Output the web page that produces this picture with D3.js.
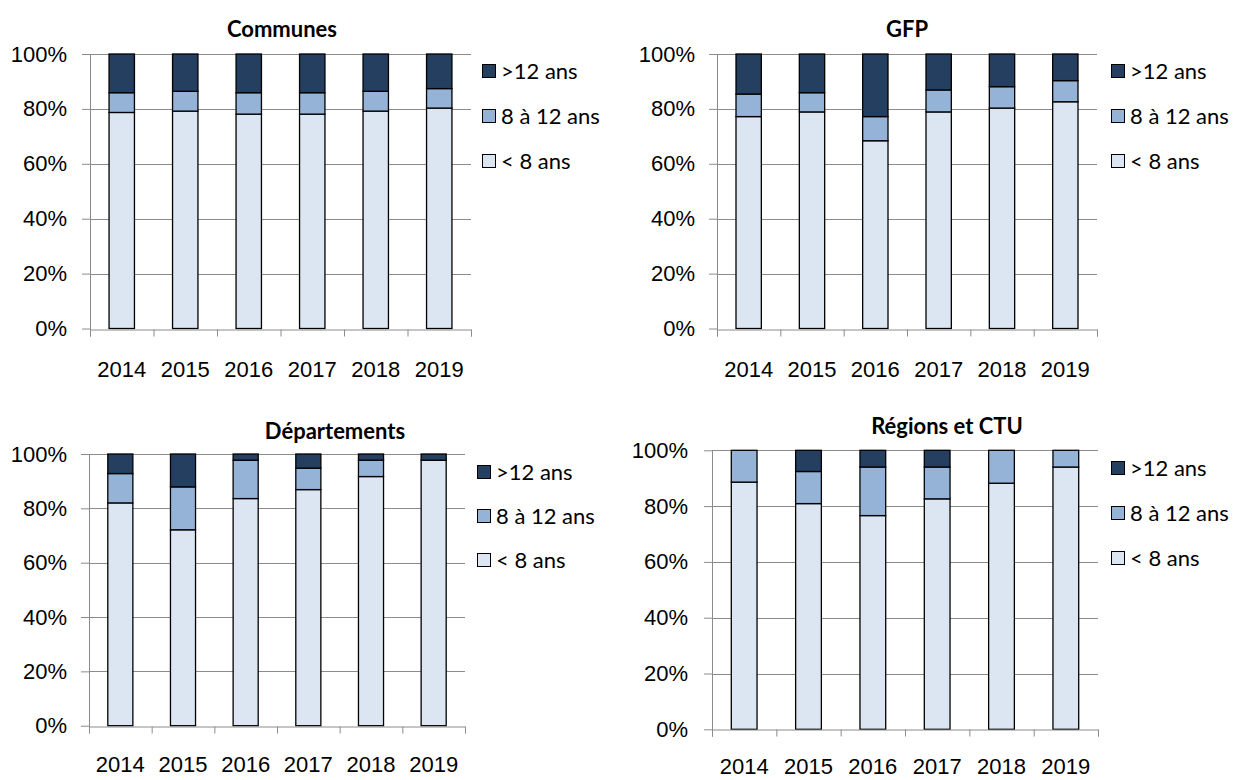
<!DOCTYPE html>
<html>
<head>
<meta charset="utf-8">
<script src="https://cdn.jsdelivr.net/npm/d3@7"></script>
<style>
  body { margin: 0; background: #fff; }
  svg { font-family: Lato, "Open Sans", sans-serif; }
  .grid line { stroke: #8c8c8c; stroke-width: 1; }
  .axis path, .axis line { stroke: #8c8c8c; }
  .axis text { fill: #000; font-size: 22px; }
  .legend text { font-size: 22px; }
  .title { font-size: 22px; font-weight: bold; }
</style>
</head>
<body>
<svg id="chart" width="1237" height="780"></svg>
<script>
const years = ['2014', '2015', '2016', '2017', '2018', '2019'];
const seriesNames = ['< 8 ans', '8 à 12 ans', '>12 ans'];
const seriesColors = ['#dce6f2', '#95b3d7', '#243f60'];

// share of each age band, in %
const communesLt8 = [78.7, 79.2, 78.1, 78.1, 79.2, 80.3];
const communesMid = [7.2, 7.2, 7.8, 7.8, 7.2, 7.1];
const communesGt12 = [14.1, 13.6, 14.1, 14.1, 13.6, 12.6];

const gfpLt8 = [77.2, 78.9, 68.4, 78.9, 80.3, 82.6];
const gfpMid = [8.2, 7.0, 8.8, 8.0, 7.8, 7.7];
const gfpGt12 = [14.6, 14.1, 22.8, 13.1, 11.9, 9.7];

const deptLt8 = [82.0, 72.1, 83.6, 86.9, 91.7, 97.7];
const deptMid = [10.8, 15.8, 14.1, 7.9, 6.0, 0.0];
const deptGt12 = [7.2, 12.1, 2.3, 5.2, 2.3, 2.3];

const regLt8 = [88.6, 80.9, 76.6, 82.6, 88.2, 94.0];
const regMid = [11.4, 11.5, 17.4, 11.4, 11.8, 6.0];
const regGt12 = [0, 7.6, 6.0, 6.0, 0, 0];

const yTicks = [0, 20, 40, 60, 80, 100];

class StackedPanel {

    constructor(_config) {
        this.config = _config;
        this.initVis();
    }

    initVis() {
        let vis = this;
        const c = vis.config;

        vis.g = d3.select('#chart').append('g');

        vis.x = d3.scaleBand()
            .domain(years)
            .range([c.left, c.right])
            .paddingInner(0.6)
            .paddingOuter(0.3);

        vis.xEdge = d3.scaleLinear()
            .domain([0, years.length])
            .range([c.left, c.right]);

        vis.y = d3.scaleLinear()
            .domain([0, 100])
            .range([c.bottom, c.top]);

        vis.render();
    }

    render() {
        let vis = this;
        const c = vis.config;

        // horizontal gridlines
        vis.g.append('g').attr('class', 'grid')
            .selectAll('line')
            .data(yTicks.slice(1))
            .join('line')
            .attr('x1', c.left)
            .attr('x2', c.right)
            .attr('y1', d => Math.round(vis.y(d)) + 0.5)
            .attr('y2', d => Math.round(vis.y(d)) + 0.5);

        const rows = years.map((yr, i) => ({
            year: yr, '< 8 ans': c.lt8[i], '8 à 12 ans': c.mid[i], '>12 ans': c.gt12[i]
        }));
        const stacked = d3.stack().keys(seriesNames)(rows);

        vis.g.append('g')
            .selectAll('g')
            .data(stacked)
            .join('g')
            .attr('fill', (d, i) => seriesColors[i])
            .selectAll('rect')
            .data(d => d.filter(s => s[1] - s[0] > 0))
            .join('rect')
            .attr('x', d => vis.x(d.data.year))
            .attr('width', vis.x.bandwidth())
            .attr('y', d => vis.y(d[1]))
            .attr('height', d => vis.y(d[0]) - vis.y(d[1]))
            .attr('stroke', '#000')
            .attr('stroke-width', 1.3);

        // y axis
        const yAxis = vis.g.append('g').attr('class', 'axis')
            .attr('transform', `translate(${c.left},0)`)
            .call(d3.axisLeft(vis.y)
                .tickValues(yTicks)
                .tickSize(8)
                .tickPadding(c.yPad)
                .tickFormat(d => d + '%'));
        yAxis.select('.domain')
            .attr('d', `M0.5,${c.top}V${c.bottom + 7}`);

        // x axis line and category separators
        vis.g.append('g').attr('class', 'axis')
            .attr('transform', `translate(0,${Math.round(c.bottom) + 0.5})`)
            .call(d3.axisBottom(vis.xEdge)
                .tickValues(d3.range(years.length + 1))
                .tickSize(7)
                .tickFormat(''));

        // year labels
        const xAxis = vis.g.append('g').attr('class', 'axis')
            .attr('transform', `translate(0,${c.yearY})`)
            .call(d3.axisBottom(vis.x).tickSize(0).tickPadding(0));
        xAxis.select('.domain').remove();
        xAxis.selectAll('text').attr('dy', 0);

        vis.g.append('text')
            .attr('class', 'title')
            .attr('x', c.titleX)
            .attr('y', c.titleY)
            .attr('text-anchor', 'middle')
            .text(c.title);

        // legend, top entry is the last series
        const legend = vis.g.append('g').attr('class', 'legend')
            .selectAll('g')
            .data(seriesNames.slice().reverse())
            .join('g')
            .attr('transform', (d, i) => `translate(${c.legendX},${c.legendY[i]})`);

        legend.append('rect')
            .attr('x', 0.5)
            .attr('y', -6.5)
            .attr('width', 13)
            .attr('height', 13)
            .attr('fill', d => seriesColors[seriesNames.indexOf(d)])
            .attr('stroke', '#000')
            .attr('stroke-width', 1);

        legend.append('text')
            .attr('x', 19)
            .attr('dy', '0.35em')
            .text(d => d);
    }
}

new StackedPanel({
    title: 'Communes', lt8: communesLt8, mid: communesMid, gt12: communesGt12,
    left: 90, right: 471, top: 54, bottom: 328.5, yPad: 15, yearY: 377,
    titleX: 282, titleY: 37, legendX: 482, legendY: [71, 116, 161]
});

new StackedPanel({
    title: 'GFP', lt8: gfpLt8, mid: gfpMid, gt12: gfpGt12,
    left: 717, right: 1097, top: 54, bottom: 328.5, yPad: 14, yearY: 377,
    titleX: 907, titleY: 37, legendX: 1111, legendY: [71, 116, 161]
});

new StackedPanel({
    title: 'Départements', lt8: deptLt8, mid: deptMid, gt12: deptGt12,
    left: 89, right: 465, top: 454, bottom: 725.7, yPad: 14, yearY: 772,
    titleX: 335, titleY: 439, legendX: 477, legendY: [472, 516, 560]
});

new StackedPanel({
    title: 'Régions et CTU', lt8: regLt8, mid: regMid, gt12: regGt12,
    left: 712, right: 1098, top: 450.3, bottom: 729.3, yPad: 16, yearY: 774,
    titleX: 947, titleY: 434, legendX: 1111, legendY: [468, 513, 558]
});
</script>
</body>
</html>
